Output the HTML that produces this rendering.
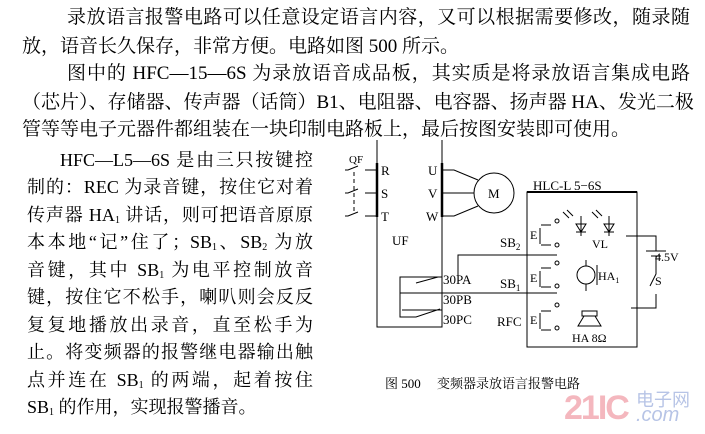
<!DOCTYPE html>
<html><head><meta charset="utf-8"><style>
body{margin:0;width:705px;height:434px;background:#fff;position:relative;overflow:hidden;font-family:"Liberation Serif","Noto Serif CJK SC",serif;color:#000}
.l{position:absolute;white-space:nowrap;text-align:justify;text-align-last:justify;line-height:1}
.t{font-size:19px;left:22px;width:668px}
.p{font-size:18px;left:27px;width:286px}
sub{font-size:10px;vertical-align:-2px;line-height:0}
svg{position:absolute;left:0;top:0}
</style></head><body>
<div class="l t" style="top:8px;left:67px;width:623px">录放语言报警电路可以任意设定语言内容，又可以根据需要修改，随录随</div>
<div class="l t" style="top:37px;width:auto;text-align-last:auto">放，语音长久保存，非常方便。电路如图 500 所示。</div>
<div class="l t" style="top:64px;left:67px;width:623px">图中的 HFC—15—6S 为录放语音成品板，其实质是将录放语言集成电路</div>
<div class="l t" style="top:93px">（芯片）、存储器、传声器（话筒）B1、电阻器、电容器、扬声器 HA、发光二极</div>
<div class="l t" style="top:120px;width:auto;text-align-last:auto">管等等电子元器件都组装在一块印制电路板上，最后按图安装即可使用。</div>

<div class="l p" style="top:151px;left:60px;width:253px">HFC—L5—6S 是由三只按键控</div>
<div class="l p" style="top:178px">制的：REC 为录音键，按住它对着</div>
<div class="l p" style="top:206px">传声器 HA<sub>1</sub> 讲话，则可把语音原原</div>
<div class="l p" style="top:233px">本本地“记”住了；SB<sub>1</sub>、SB<sub>2</sub> 为放</div>
<div class="l p" style="top:261px">音键，其中 SB<sub>1</sub> 为电平控制放音</div>
<div class="l p" style="top:288px">键，按住它不松手，喇叭则会反反</div>
<div class="l p" style="top:316px">复复地播放出录音，直至松手为</div>
<div class="l p" style="top:343px">止。将变频器的报警继电器输出触</div>
<div class="l p" style="top:371px">点并连在 SB<sub>1</sub> 的两端，起着按住</div>
<div class="l p" style="top:398px;width:auto;text-align-last:auto">SB<sub>1</sub> 的作用，实现报警播音。</div>

<svg width="705" height="434" viewBox="0 0 705 434" font-family="Liberation Serif, serif" font-size="13" stroke="#000" fill="none" stroke-width="1">
<!-- UF box -->
<path d="M377 140V327H442V140"/>
<line x1="377" y1="163" x2="377" y2="217" stroke-width="2.5"/>
<line x1="442" y1="163" x2="442" y2="217" stroke-width="2.5"/>
<g fill="#000" stroke="none">
<text x="381" y="175">R</text><text x="381" y="198">S</text><text x="381" y="221">T</text>
<text x="428" y="175">U</text><text x="428" y="198">V</text><text x="426" y="221">W</text>
<text x="392" y="245">UF</text>
<text x="349" y="163" font-size="11">QF</text>
</g>
<!-- QF switches -->
<path d="M345 170h3l10-4M365 170h12M345 193h3l10-4M365 193h12M345 216h3l10-4M365 216h12"/>
<line x1="354" y1="172" x2="354" y2="214" stroke-dasharray="4,3"/>
<!-- motor -->
<circle cx="494" cy="193" r="20"/>
<text x="488" y="198" fill="#000" stroke="none">M</text>
<path d="M442 170h12l24 10M442 193h32M442 216h12l24-10"/>
<!-- relay -->
<path d="M442 277h-42v40h16l24-8M400 293h42M442 310h-40M416 283l22-6"/>
<path d="M440 293H557"/>
<g fill="#000" stroke="none">
<text x="443" y="284">30PA</text><text x="443" y="304">30PB</text><text x="443" y="324">30PC</text>
<text x="500" y="247">SB<tspan font-size="9" dy="3">2</tspan></text>
<text x="500" y="288">SB<tspan font-size="9" dy="3">1</tspan></text>
<text x="497" y="326">RFC</text>
<text x="533" y="190">HLC-L 5−6S</text>
</g>
<path d="M458 277V255H557"/>
<!-- HLC box -->
<rect x="527" y="192" width="110" height="155"/>
<line x1="527" y1="192" x2="637" y2="192" stroke-width="2"/>
<g fill="#000" stroke="none" font-size="12">
<text x="530" y="239">E</text><text x="530" y="282">E</text><text x="530" y="324">E</text>
<text x="592" y="248">VL</text>
<text x="598" y="280">HA<tspan font-size="8" dy="3">1</tspan></text>
<text x="572" y="342">HA 8Ω</text>
<text x="655" y="261">4.5V</text><text x="655" y="285">S</text>
</g>
<path d="M540 228v16M540 271v16M540 313v16"/>
<path d="M541 225h10M541 245h10M541 268h10M541 287h10M541 311h10M541 330h10"/>
<circle cx="557" cy="221" r="2"/><circle cx="557" cy="245" r="2"/><circle cx="557" cy="263" r="2"/><circle cx="557" cy="286" r="2"/><circle cx="557" cy="305" r="2"/><circle cx="557" cy="328" r="2"/>
<!-- LEDs -->
<path d="M576 224h10l-5 8zM576 232h10M604 224h10l-5 8zM604 232h10M581 216v20M609 216v20"/>
<path d="M563 212l6 6M567 210l6 6M592 212l6 6M596 210l6 6"/>
<!-- mic -->
<circle cx="586" cy="275" r="9"/><path d="M586 260v6M586 284v7M597 265v20"/>
<!-- speaker -->
<path d="M582 311h15v5h-15zM578 326l6-10h11l6 10z"/>
<!-- battery -->
<path d="M626 236h30v15M646 251h20M651 256h10M656 256v18l-6 12M656 294v14h-25"/>
</svg>
<div class="l" style="top:377px;left:385px;font-size:13px">图 500　 变频器录放语言报警电路</div>
<div class="l" style="top:391px;left:564px;font-family:'Liberation Sans',sans-serif;font-weight:bold;font-size:34px;color:#f4b7be;letter-spacing:-2px">21IC</div>
<div class="l" style="top:391px;left:636px;font-family:'Liberation Sans','Noto Sans CJK SC',sans-serif;font-size:18px;color:#b7c4e6">电子网</div>
<div class="l" style="top:405px;left:636px;font-family:'Liberation Sans',sans-serif;font-style:italic;font-size:20px;color:#b7c4e6">.com</div>
</body></html>
